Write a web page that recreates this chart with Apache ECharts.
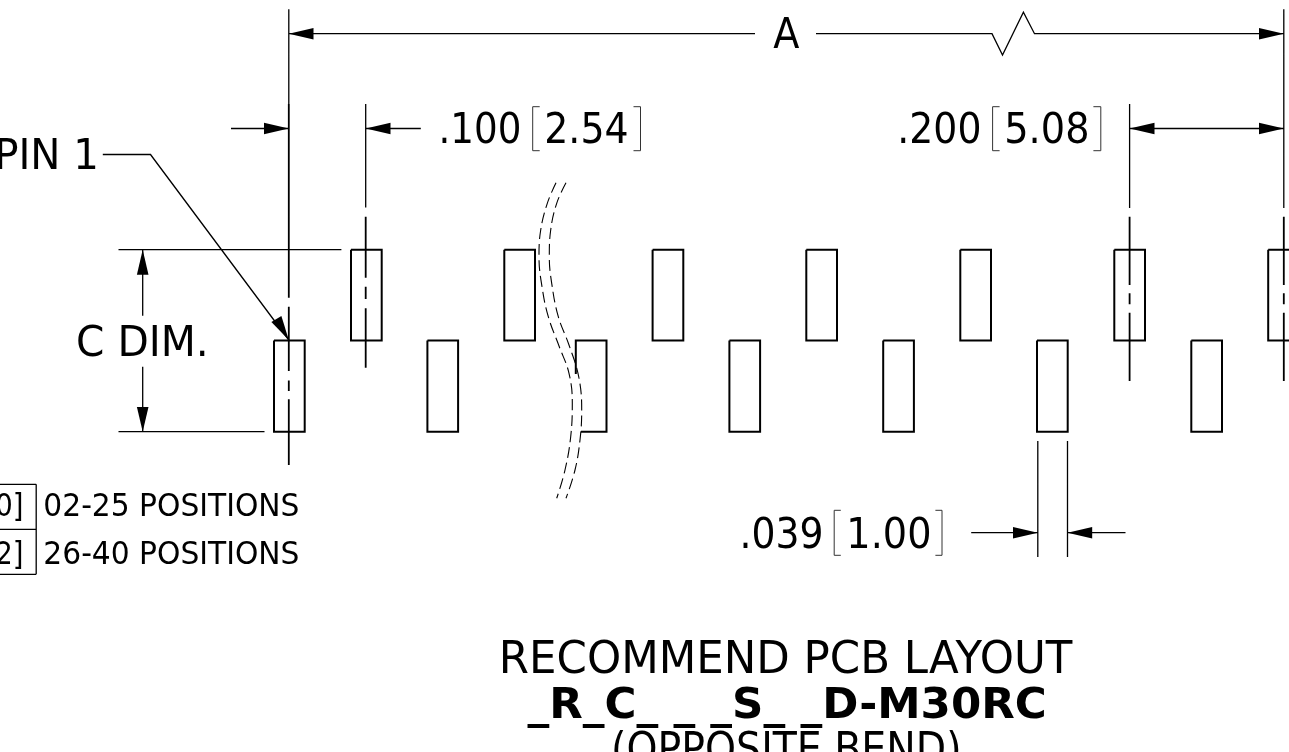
<!DOCTYPE html>
<html><head><meta charset="utf-8">
<style>html,body{margin:0;padding:0;background:#fff}#c{width:1289px;height:752px}</style>
<script src="https://cdn.jsdelivr.net/npm/echarts@6/dist/echarts.min.js"></script>
</head><body><div id="c"></div>
<script>
// ---- values (drawing units = picture pixels) ----
const upperPadLeft = [351, 504.3, 652.6, 806.3, 960.3, 1114.3, 1268.2];
const lowerPadLeft = [274, 427.4, 729.4, 883.2, 1037, 1191.3];
const padWidth = 30.7;
const upperPadTop = 249.7, padMiddle = 340.6, lowerPadBottom = 431.7;
const brokenPad = [[575.8,374],[575.8,340.6],[606.5,340.6],[606.5,431.7],[581,431.7]];

const heavyCenterLines = [
  [[288.8,104],[288.8,297.7]], [[288.8,306.7],[288.8,371]], [[288.8,380.5],[288.8,391]], [[288.8,399.3],[288.8,465]],
  [[365.7,216.7],[365.7,277.7]], [[365.7,286.7],[365.7,299]], [[365.7,308.3],[365.7,367.7]],
  [[1129.6,216.7],[1129.6,285]], [[1129.6,293.3],[1129.6,304.3]], [[1129.6,312.7],[1129.6,381]],
  [[1283.8,216.7],[1283.8,285]], [[1283.8,293.3],[1283.8,304.3]], [[1283.8,312.7],[1283.8,381]]
];
const dimensionLines = [
  [[288.8,9.3],[288.8,104]],
  [[365.7,104],[365.7,207.5]],
  [[1129.6,104],[1129.6,208]],
  [[1283.8,9.3],[1283.8,208]],
  [[288.8,33.7],[755,33.7]],
  [[816,33.7],[992,33.7],[1002.5,55],[1023.4,12.3],[1034.5,33.7],[1283.8,33.7]],
  [[231,128.5],[288.8,128.5]], [[365.7,128.5],[420.8,128.5]], [[1129.6,128.5],[1283.8,128.5]],
  [[118.5,249.7],[341.4,249.7]], [[118.5,431.7],[264.5,431.7]],
  [[142.7,249.7],[142.7,315.7]], [[142.7,366.7],[142.7,431.7]],
  [[102.8,154.5],[150.5,154.5],[288.8,340]],
  [[1037.8,441],[1037.8,557]], [[1067.5,441],[1067.5,557]],
  [[971.2,532.7],[1037.8,532.7]], [[1067.5,532.7],[1125.5,532.7]],
  [[36.2,484.3],[36.2,574.3]], [[0,484.3],[36.2,484.3]], [[0,529.3],[36.2,529.3]], [[0,574.3],[36.2,574.3]]
];
const bracketLines = [
  [[539.7,106.7],[532.7,106.7],[532.7,150.7],[539.7,150.7]], [[633.5,106.7],[640.5,106.7],[640.5,150.7],[633.5,150.7]],
  [[999.6,106.7],[992.6,106.7],[992.6,150.7],[999.6,150.7]], [[1093.4,106.7],[1100.8,106.7],[1100.8,150.7],[1093.4,150.7]],
  [[840.8,510.3],[834.2,510.3],[834.2,555.3],[840.8,555.3]], [[935.4,510.3],[942,510.3],[942,555.3],[935.4,555.3]]
];
// arrowheads: tip x, tip y, base x, base y
const arrowHeads = [
  [288.8,33.7,313.5,33.7], [1283.8,33.7,1259,33.7],
  [288.8,128.5,264,128.5], [365.7,128.5,390.5,128.5],
  [1129.6,128.5,1154.5,128.5], [1283.8,128.5,1259,128.5],
  [142.7,249.7,142.7,274.7], [142.7,431.7,142.7,407],
  [288.8,340,276.4,319],
  [1037.8,532.7,1013,532.7], [1067.5,532.7,1092.2,532.7]
];
const breakCurveA = [[556,182.7],[547.3,203.3],[540.7,230],[539,256.7],[542,286.7],[548.3,316.7],[559.3,346.7],[569,373.3],[572.3,403.3],[570.7,436.7],[565,470],[556.7,498.3]];
const breakCurveB = [[566,182.7],[556.7,203.3],[550.7,230],[549.3,256.7],[551.7,283.3],[558.3,316.7],[569,345],[578.7,376.7],[581.7,410],[580,440],[575,470],[566,498.3]];

const labelTexts    = ['A','.100','2.54','.200','5.08','PIN 1','C DIM.','.039','1.00','0]','2]','02-25 POSITIONS','26-40 POSITIONS','RECOMMEND PCB LAYOUT','_R_C_ _ _S_ _D-M30RC','(OPPOSITE BEND)'];
const labelInkLeft  = [773.3,442,547,900.9,1007,-2,78,743,850,-3,-3,45.2,45.2,502.7,527.4,613.7];
const labelInkRight = [799.7,519,627,979,1087,95.4,204.5,821,929,21.4,21.4,298.2,298.2,1072.8,1044.8,958.4];
const labelBaseline = [49.3,144.3,144.3,144.3,144.3,170.7,357.7,549.3,549.3,517.7,565,517.7,565,675.3,720,766];
const labelSizes    = [42,42,42,42,42,42,42,42,42,32,32,32,32,45,42,45];
const boldLabels    = ['_R_C_ _ _S_ _D-M30RC'];

// ---- helpers ----
const FONT = '"DejaVu Sans"';
const gapPoint = ['-','-'];
const flatten = list => list.flatMap(p => [...p, gapPoint]);
const padOutline = (l,t,b) => [[l,t],[l+padWidth,t],[l+padWidth,b],[l,b],[l,t]];
const padPaths = [
  ...upperPadLeft.map(l => padOutline(l,upperPadTop,padMiddle)),
  ...lowerPadLeft.map(l => padOutline(l,padMiddle,lowerPadBottom)),
  brokenPad
];
const lineSeries = (data,width,color,type) => ({
  type:'line', data, showSymbol:false, symbol:'none', silent:true, animation:false, clip:false,
  lineStyle:{width,color,type:type||'solid',cap:'butt',join:'miter'}
});
const ctx = document.createElement('canvas').getContext('2d');

const chart = echarts.init(document.getElementById('c'),null,{renderer:'canvas',width:1289,height:752});
chart.setOption({
  animation:false, backgroundColor:'#fff',
  grid:{left:0,right:0,top:0,bottom:0},
  xAxis:{type:'value',min:0,max:1289,show:false},
  yAxis:{type:'value',min:0,max:752,inverse:true,show:false},
  tooltip:{show:false}, legend:{show:false},
  series:[
    lineSeries(flatten(padPaths),2,'#000'),
    lineSeries(flatten(heavyCenterLines),1.8,'#000'),
    lineSeries(flatten(dimensionLines),1.3,'#000'),
    lineSeries(flatten(bracketLines),1,'#333'),
    Object.assign(lineSeries(breakCurveA,1.1,'#000',[11,5]),{smooth:0.4}),
    Object.assign(lineSeries(breakCurveB,1.1,'#000',[11,5]),{smooth:0.4}),
    {
      type:'custom', coordinateSystem:'cartesian2d', silent:true, animation:false, clip:false,
      encode:{x:0,y:1}, data:arrowHeads,
      renderItem(params,api){
        const t=api.coord([api.value(0),api.value(1)]), b=api.coord([api.value(2),api.value(3)]);
        const dx=b[0]-t[0], dy=b[1]-t[1], n=Math.hypot(dx,dy), hw=5.8;
        const px=-dy/n*hw, py=dx/n*hw;
        return {type:'polygon',shape:{points:[t,[b[0]+px,b[1]+py],[b[0]-px,b[1]-py]]},style:{fill:'#000',stroke:null}};
      }
    },
    {
      type:'custom', coordinateSystem:'cartesian2d', silent:true, animation:false, clip:false,
      encode:{x:0,y:1},
      data:labelTexts.map((t,i)=>[labelInkLeft[i],labelBaseline[i],i]),
      renderItem(params,api){
        const i=api.value(2), text=labelTexts[i], size=labelSizes[i];
        const weight=boldLabels.includes(text)?'bold':'normal';
        const font=weight+' '+size+'px '+FONT;
        ctx.font=font;
        const m=ctx.measureText(text);
        const ink=m.actualBoundingBoxLeft+m.actualBoundingBoxRight;
        const scale=(labelInkRight[i]-labelInkLeft[i])/ink;
        const p=api.coord([labelInkLeft[i],labelBaseline[i]]);
        return {type:'text',x:p[0]+m.actualBoundingBoxLeft*scale,y:p[1]-size*0.30,scaleX:scale,
          style:{text,font,fill:'#000',textAlign:'left',textVerticalAlign:'middle',verticalAlign:'middle'}};
      }
    }
  ]
});
</script></body></html>
